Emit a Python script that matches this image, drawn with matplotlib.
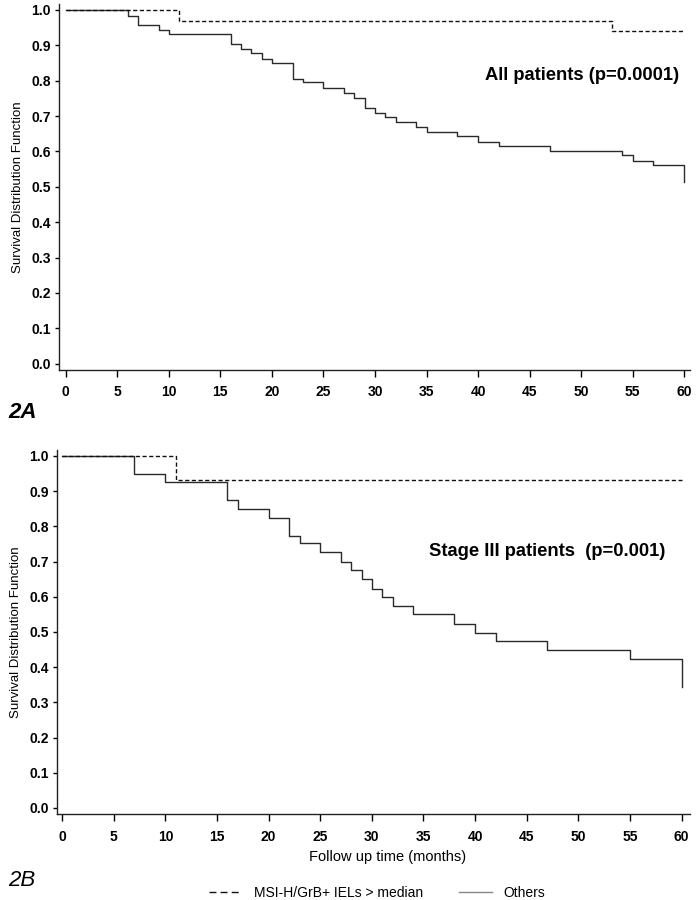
import matplotlib
matplotlib.use("Agg")
import matplotlib.pyplot as plt
from matplotlib.lines import Line2D

plt.rcParams['font.family'] = ['Liberation Sans', 'DejaVu Sans']

# Kaplan-Meier step data (months, survival)
all_others_t = [0, 6, 7, 9, 10, 16, 17, 18, 19, 20, 22, 23, 25, 27, 28, 29, 30, 31,
                32, 34, 35, 38, 40, 42, 47, 54, 55, 57, 60]
all_others_s = [1.0, 0.984, 0.957, 0.943, 0.931, 0.905, 0.889, 0.877, 0.860, 0.850,
                0.805, 0.796, 0.780, 0.764, 0.752, 0.724, 0.709, 0.698, 0.683, 0.670,
                0.655, 0.643, 0.628, 0.616, 0.601, 0.589, 0.574, 0.561, 0.514]
all_msi_t = [0, 11, 53, 60]
all_msi_s = [1.0, 0.970, 0.941, 0.941]

st3_others_t = [0, 7, 10, 16, 17, 20, 22, 23, 25, 27, 28, 29, 30, 31, 32, 34, 38,
                40, 42, 47, 55, 60]
st3_others_s = [1.0, 0.95, 0.926, 0.875, 0.849, 0.825, 0.773, 0.752, 0.727, 0.700,
                0.676, 0.650, 0.622, 0.599, 0.574, 0.550, 0.523, 0.498, 0.474, 0.450,
                0.424, 0.344]
st3_msi_t = [0, 11, 60]
st3_msi_s = [1.0, 0.931, 0.931]

x_ticks = list(range(0, 61, 5))
y_ticks = [i / 10 for i in range(11)]
legend_labels = ['MSI-H/GrB+ IELs > median', 'Others']

fig = plt.figure(figsize=(7, 9), dpi=100)


def km_panel(rect, xlim, t_o, s_o, t_m, s_m, note, note_xy, note_bold):
    ax = fig.add_axes(rect)
    ax.plot(t_o, s_o, drawstyle='steps-post', color='#2a2a2a', lw=1.0)
    ax.plot(t_m, s_m, drawstyle='steps-post', color='#111111', lw=1.0,
            dashes=(3, 1.8))
    ax.set_xlim(*xlim)
    ax.set_ylim(-0.018, 1.017)
    ax.spines['top'].set_visible(False)
    ax.spines['right'].set_visible(False)
    for s in ('left', 'bottom'):
        ax.spines[s].set_linewidth(1.0)
        ax.spines[s].set_color('#222222')
    ax.set_xticks(x_ticks)
    ax.set_yticks(y_ticks)
    ax.set_yticklabels(['%.1f' % v for v in y_ticks])
    ax.tick_params(axis='x', direction='out', length=5, width=1, pad=6,
                   labelsize=10)
    ax.tick_params(axis='y', direction='out', length=3, width=1, pad=3,
                   labelsize=10)
    for lab in ax.get_xticklabels() + ax.get_yticklabels():
        lab.set_fontweight('bold')
    ax.set_ylabel('Survival Distribution Function', fontsize=9.5, labelpad=5)
    fig.text(note_xy[0], note_xy[1], note, fontsize=13.2,
             fontweight='bold' if note_bold else 'semibold', ha='center', va='center')
    return ax


ax1 = km_panel([0.0843, 0.5889, 0.9014, 0.4067], (-0.65, 60.55),
               all_others_t, all_others_s, all_msi_t, all_msi_s,
               'All patients (p=0.0001)', (582 / 700, 1 - 76 / 900), True)
ax2 = km_panel([0.0814, 0.0952, 0.904, 0.4048], (-0.51, 60.8),
               st3_others_t, st3_others_s, st3_msi_t, st3_msi_s,
               'Stage III patients  (p=0.001)', (547 / 700, 1 - 551 / 900), False)

fig.text(388 / 700, 1 - 857 / 900, 'Follow up time (months)', fontsize=10.5,
         ha='center', va='center')

fig.text(8 / 700, 1 - 412 / 900, '2A', fontsize=16, fontweight='bold',
         fontstyle='italic', ha='left', va='center')
fig.text(8 / 700, 1 - 880 / 900, '2B', fontsize=16, fontstyle='italic',
         ha='left', va='center')

handles = [Line2D([], [], color='#111111', lw=1.0, dashes=(5, 3)),
           Line2D([], [], color='#888888', lw=1.0)]
fig.legend(handles, legend_labels, loc='center', bbox_to_anchor=(377 / 700, 1 - 893 / 900),
           ncol=2, frameon=False, fontsize=10, handlelength=2.4, columnspacing=2.6,
           handletextpad=0.8)

fig.savefig('out.png', dpi=100)
